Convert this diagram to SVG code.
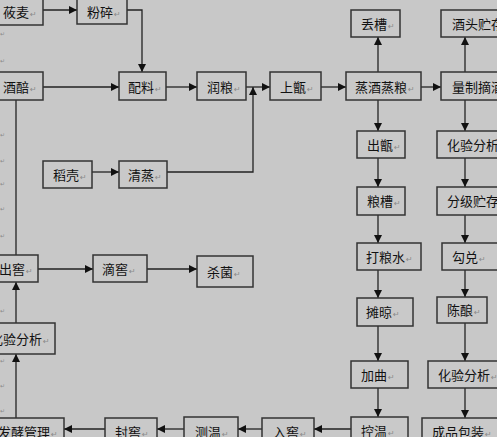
<svg xmlns="http://www.w3.org/2000/svg" width="497" height="437" viewBox="0 0 497 437">
<defs>
<marker id="ah" viewBox="0 0 10 10" refX="10" refY="5" markerWidth="8" markerHeight="8" markerUnits="userSpaceOnUse" orient="auto"><path d="M0,0 L10,5 L0,10 z" fill="#111"/></marker>
<style>
.b{fill:#c9c9c9;stroke:#333;stroke-width:1.5}
.t{font-family:"Noto Sans CJK SC","Liberation Sans",sans-serif;font-size:13px;fill:#111}
.p{font-family:"DejaVu Sans",sans-serif;font-size:8px;fill:#8a8a8a}
.m{font-family:"DejaVu Sans",sans-serif;font-size:6px;fill:#8a8a8a}
.c{stroke:#222;stroke-width:1.3;fill:none}
.a{marker-end:url(#ah)}
</style>
</defs>
<rect width="497" height="437" fill="#c8c8c8"/>
<g id="marks" class="m">
<text x="0" y="36">↵</text><text x="0" y="63">↵</text><text x="0" y="137">↵</text><text x="0" y="163">↵</text><text x="0" y="186">↵</text><text x="0" y="211">↵</text><text x="0" y="238">↵</text><text x="0" y="313">↵</text><text x="0" y="363">↵</text><text x="0" y="388">↵</text><text x="0" y="413">↵</text>
</g>
<g id="connectors">
<path class="c a" d="M43,10 H77"/>
<path class="c a" d="M127,10 H142 V72"/>
<path class="c a" d="M43,87 H119"/>
<path class="c a" d="M166,87 H197"/>
<path class="c a" d="M246,87 H270"/>
<path class="c a" d="M167,172 H253 V87"/>
<path class="c a" d="M92,172 H119"/>
<path class="c a" d="M321,87 H346"/>
<path class="c a" d="M378,72 V37"/>
<path class="c a" d="M421,87 H441"/>
<path class="c a" d="M465,72 V37"/>
<path class="c a" d="M378,100 V131"/>
<path class="c a" d="M378,158 V187"/>
<path class="c a" d="M378,215 V243"/>
<path class="c a" d="M378,270 V298"/>
<path class="c a" d="M378,326 V361"/>
<path class="c a" d="M378,388 V417"/>
<path class="c a" d="M465,100 V131"/>
<path class="c a" d="M465,158 V187"/>
<path class="c a" d="M465,215 V243"/>
<path class="c a" d="M465,270 V297"/>
<path class="c a" d="M465,323 V361"/>
<path class="c a" d="M465,388 V418"/>
<path class="c a" d="M351,429 H314"/>
<path class="c a" d="M262,429 H238"/>
<path class="c a" d="M184,429 H157"/>
<path class="c a" d="M105,429 H64"/>
<path class="c a" d="M16,418 V354"/>
<path class="c a" d="M16,323 V282"/>
<path class="c" d="M16,100 V255"/>
<path class="c a" d="M38,269 H93"/>
<path class="c a" d="M147,269 H197"/>
</g>
<g id="n-youmai"><rect class="b" x="-10" y="-5" width="53" height="30"/><text class="t" x="3" y="17">莜麦</text><text class="p" x="30" y="17">↵</text></g>
<g id="n-fensui"><rect class="b" x="77" y="-5" width="50" height="29"/><text class="t" x="87" y="17">粉碎</text><text class="p" x="114" y="17">↵</text></g>
<g id="n-jiupei"><rect class="b" x="-10" y="72" width="53" height="28"/><text class="t" x="3" y="92">酒醅</text><text class="p" x="30" y="92">↵</text></g>
<g id="n-peiliao"><rect class="b" x="119" y="72" width="47" height="28"/><text class="t" x="128" y="92">配料</text><text class="p" x="155" y="92">↵</text></g>
<g id="n-runliang"><rect class="b" x="197" y="72" width="49" height="28"/><text class="t" x="207" y="92">润粮</text><text class="p" x="234" y="92">↵</text></g>
<g id="n-shangzeng"><rect class="b" x="270" y="72" width="51" height="28"/><text class="t" x="280" y="92">上甑</text><text class="p" x="307" y="92">↵</text></g>
<g id="n-zhengjiu"><rect class="b" x="346" y="72" width="75" height="28"/><text class="t" x="355" y="92">蒸酒蒸粮</text><text class="p" x="408" y="92">↵</text></g>
<g id="n-diucao"><rect class="b" x="351" y="10" width="49" height="27"/><text class="t" x="361" y="29">丢槽</text><text class="p" x="388" y="29">↵</text></g>
<g id="n-liangzhi"><rect class="b" x="441" y="72" width="70" height="28"/><text class="t" x="452" y="92">量制摘酒</text></g>
<g id="n-jiutou"><rect class="b" x="441" y="10" width="70" height="27"/><text class="t" x="452" y="29">酒头贮存</text></g>
<g id="n-chuzeng"><rect class="b" x="357" y="131" width="48" height="27"/><text class="t" x="367" y="150">出甑</text><text class="p" x="394" y="150">↵</text></g>
<g id="n-liangcao"><rect class="b" x="357" y="187" width="48" height="28"/><text class="t" x="367" y="206">粮槽</text><text class="p" x="394" y="206">↵</text></g>
<g id="n-huayan1"><rect class="b" x="437" y="131" width="74" height="27"/><text class="t" x="447" y="150">化验分析</text></g>
<g id="n-fenji"><rect class="b" x="437" y="187" width="74" height="28"/><text class="t" x="447" y="206">分级贮存</text></g>
<g id="n-daoke"><rect class="b" x="43" y="161" width="49" height="27"/><text class="t" x="53" y="180">稻壳</text><text class="p" x="80" y="180">↵</text></g>
<g id="n-qingzheng"><rect class="b" x="119" y="161" width="48" height="27"/><text class="t" x="128" y="180">清蒸</text><text class="p" x="155" y="180">↵</text></g>
<g id="n-daliangshui"><rect class="b" x="357" y="243" width="64" height="27"/><text class="t" x="366" y="262">打粮水</text><text class="p" x="406" y="262">↵</text></g>
<g id="n-tanliang"><rect class="b" x="357" y="298" width="56" height="28"/><text class="t" x="366" y="317">摊晾</text><text class="p" x="393" y="317">↵</text></g>
<g id="n-goudui"><rect class="b" x="442" y="243" width="60" height="27"/><text class="t" x="452" y="262">勾兑</text><text class="p" x="479" y="262">↵</text></g>
<g id="n-chenniang"><rect class="b" x="437" y="297" width="50" height="26"/><text class="t" x="447" y="315">陈酿</text><text class="p" x="474" y="315">↵</text></g>
<g id="n-jiaqu"><rect class="b" x="351" y="361" width="57" height="27"/><text class="t" x="361" y="380">加曲</text><text class="p" x="388" y="380">↵</text></g>
<g id="n-kongwen"><rect class="b" x="351" y="417" width="57" height="28"/><text class="t" x="361" y="436">控温</text><text class="p" x="388" y="436">↵</text></g>
<g id="n-huayan2"><rect class="b" x="428" y="361" width="75" height="27"/><text class="t" x="438" y="380">化验分析</text><text class="p" x="491" y="380">↵</text></g>
<g id="n-chengpin"><rect class="b" x="422" y="418" width="80" height="28"/><text class="t" x="432" y="437">成品包装</text><text class="p" x="485" y="437">↵</text></g>
<g id="n-chujiao"><rect class="b" x="-10" y="255" width="48" height="27"/><text class="t" x="-1" y="274">出窖</text><text class="p" x="26" y="274">↵</text></g>
<g id="n-dijiao"><rect class="b" x="93" y="255" width="54" height="27"/><text class="t" x="102" y="274">滴窖</text><text class="p" x="129" y="274">↵</text></g>
<g id="n-shajun"><rect class="b" x="197" y="256" width="56" height="31"/><text class="t" x="207" y="277">杀菌</text><text class="p" x="234" y="277">↵</text></g>
<g id="n-huayan3"><rect class="b" x="-20" y="323" width="75" height="31"/><text class="t" x="-10" y="344">化验分析</text><text class="p" x="43" y="344">↵</text></g>
<g id="n-fajiao"><rect class="b" x="-20" y="418" width="84" height="28"/><text class="t" x="-2" y="437">发酵管理</text><text class="p" x="51" y="437">↵</text></g>
<g id="n-fengjiao"><rect class="b" x="105" y="418" width="52" height="28"/><text class="t" x="115" y="437">封窖</text><text class="p" x="142" y="437">↵</text></g>
<g id="n-cewen"><rect class="b" x="184" y="417" width="54" height="28"/><text class="t" x="195" y="437">测温</text><text class="p" x="222" y="437">↵</text></g>
<g id="n-rujiao"><rect class="b" x="262" y="418" width="52" height="28"/><text class="t" x="273" y="437">入窖</text><text class="p" x="300" y="437">↵</text></g>
</svg>
